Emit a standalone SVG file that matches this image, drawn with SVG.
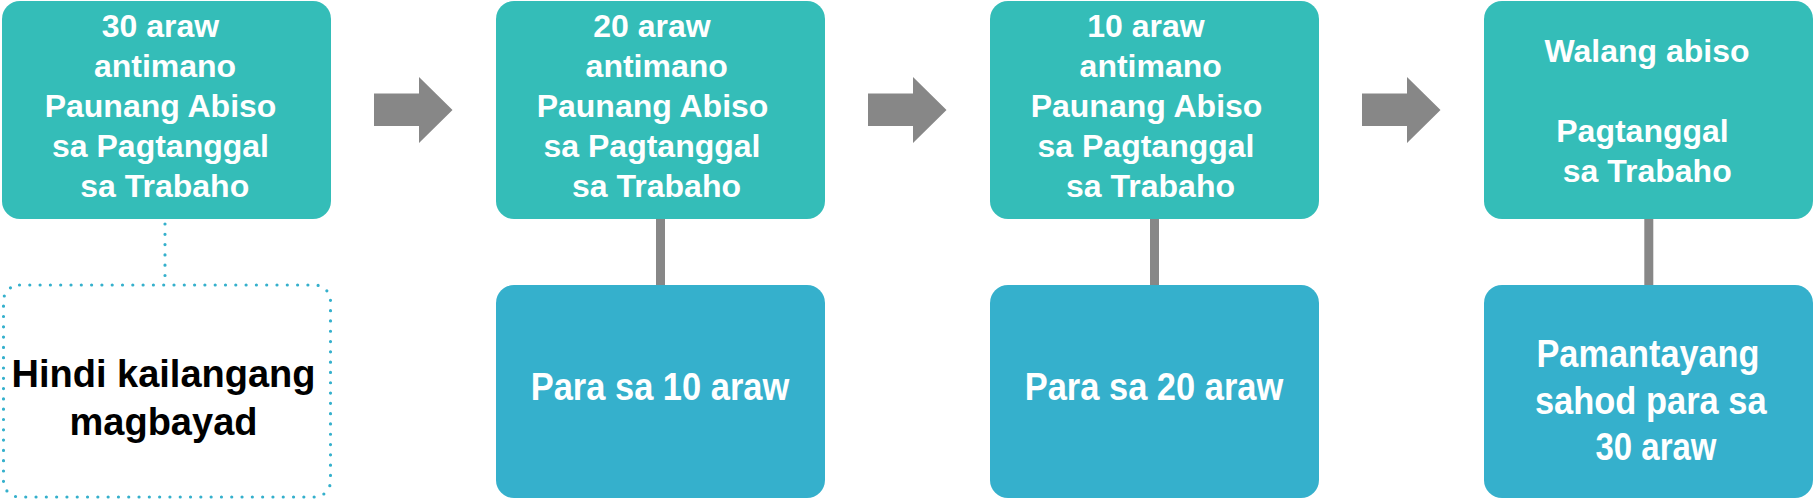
<svg xmlns="http://www.w3.org/2000/svg" width="1814" height="500" viewBox="0 0 1814 500">
<style>
.top{fill:#34BDB8}
.bot{fill:#35B0CC}
.t{font-family:"Liberation Sans",Arial,sans-serif;font-weight:bold;fill:#FFFFFF;text-anchor:middle}
.t32{font-size:32px}
.t38{font-size:38px}
.blk{font-family:"Liberation Sans",Arial,sans-serif;font-weight:bold;fill:#000000;text-anchor:middle;font-size:38px}
.arrow{fill:#878787}
.conn{stroke:#878787;stroke-width:9;fill:none}
.dot{stroke:#35B0CC;stroke-width:3.2;stroke-linecap:round;stroke-dasharray:0 10.3;fill:none}
</style>
<defs>
<polygon id="arr" points="374,93.5 419,93.5 419,77 452.5,110 419,143 419,126 374,126"/>
</defs>
<g id="connectors">
<use href="#arr" class="arrow"/>
<use href="#arr" class="arrow" transform="translate(494,0)"/>
<use href="#arr" class="arrow" transform="translate(988,0)"/>
<line class="dot" x1="165" y1="224" x2="165" y2="280"/>
<line class="conn" x1="660.5" y1="219" x2="660.5" y2="285"/>
<line class="conn" x1="1154.5" y1="219" x2="1154.5" y2="285"/>
<line class="conn" x1="1648.8" y1="219" x2="1648.8" y2="285"/>
</g>
<g id="node-30-araw">
<rect class="top" x="2" y="1" width="329" height="218" rx="18"/>
<text class="t t32" x="160.5" y="37">30 araw</text>
<text class="t t32" x="165" y="77">antimano</text>
<text class="t t32" x="160.5" y="117">Paunang Abiso</text>
<text class="t t32" x="160.5" y="157">sa Pagtanggal</text>
<text class="t t32" x="164.7" y="197">sa Trabaho</text>
</g>
<g id="node-20-araw">
<rect class="top" x="496" y="1" width="329" height="218" rx="18"/>
<text class="t t32" x="652" y="37">20 araw</text>
<text class="t t32" x="656.7" y="77">antimano</text>
<text class="t t32" x="652.5" y="117">Paunang Abiso</text>
<text class="t t32" x="652" y="157">sa Pagtanggal</text>
<text class="t t32" x="656.5" y="197">sa Trabaho</text>
</g>
<g id="node-10-araw">
<rect class="top" x="990" y="1" width="329" height="218" rx="18"/>
<text class="t t32" x="1146" y="37">10 araw</text>
<text class="t t32" x="1150.7" y="77">antimano</text>
<text class="t t32" x="1146.5" y="117">Paunang Abiso</text>
<text class="t t32" x="1146" y="157">sa Pagtanggal</text>
<text class="t t32" x="1150.5" y="197">sa Trabaho</text>
</g>
<g id="node-walang-abiso">
<rect class="top" x="1484" y="1" width="329" height="218" rx="18"/>
<text class="t t32" x="1647" y="62">Walang abiso</text>
<text class="t t32" x="1642.5" y="142">Pagtanggal</text>
<text class="t t32" x="1647.2" y="182">sa Trabaho</text>
</g>
<g id="node-hindi-kailangang">
<rect class="dot" x="3.5" y="285" width="327" height="212" rx="16"/>
<text class="blk" x="163.5" y="387">Hindi kailangang</text>
<text class="blk" x="163.5" y="435">magbayad</text>
</g>
<g id="node-para-10">
<rect class="bot" x="496" y="285" width="329" height="213" rx="18"/>
<text class="t t38" x="660" y="399.5" textLength="258.6" lengthAdjust="spacingAndGlyphs">Para sa 10 araw</text>
</g>
<g id="node-para-20">
<rect class="bot" x="990" y="285" width="329" height="213" rx="18"/>
<text class="t t38" x="1154" y="399.5" textLength="258.6" lengthAdjust="spacingAndGlyphs">Para sa 20 araw</text>
</g>
<g id="node-pamantayang">
<rect class="bot" x="1484" y="285" width="329" height="213" rx="18"/>
<text class="t t38" x="1648" y="367" textLength="223" lengthAdjust="spacingAndGlyphs">Pamantayang</text>
<text class="t t38" x="1650.8" y="413.5" textLength="231.7" lengthAdjust="spacingAndGlyphs">sahod para sa</text>
<text class="t t38" x="1656" y="460" textLength="121" lengthAdjust="spacingAndGlyphs">30 araw</text>
</g>
</svg>
